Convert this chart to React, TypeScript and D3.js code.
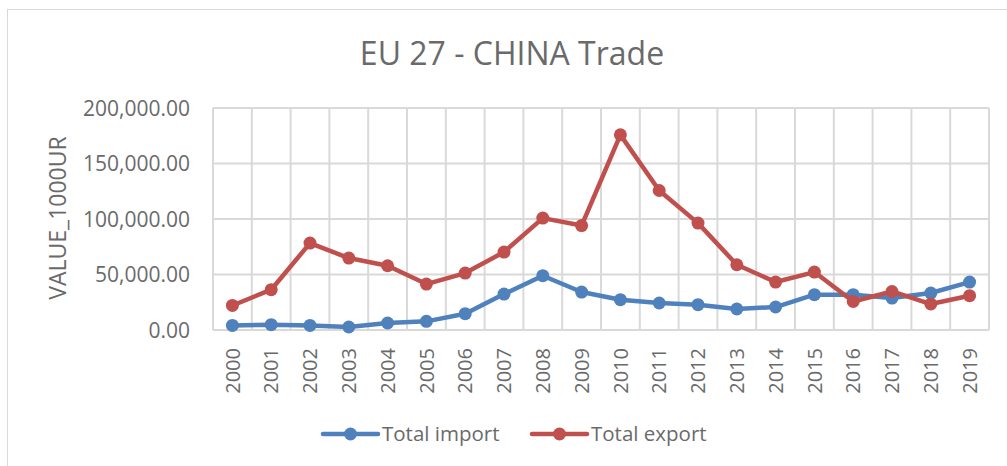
import React from "react";
import * as d3 from "d3";

const years = ["2000","2001","2002","2003","2004","2005","2006","2007","2008","2009","2010","2011","2012","2013","2014","2015","2016","2017","2018","2019"];
const totalImport = [4100,4800,4100,2700,6300,7800,14700,32400,48900,34200,27300,24300,22800,18900,20700,31800,31800,28800,33300,43200];
const totalExport = [22100,36300,78300,64800,57900,41400,51300,70200,100800,94100,175800,125700,96300,58800,43200,52200,25700,34700,23400,30900];
const yTicks = [0,50000,100000,150000,200000];
const seriesNames = ["Total import","Total export"];
const colors = ["#4f81bd","#c0504d"];

const W = 1007, H = 466;
const plot = { left: 213, right: 989, top: 108, bottom: 330 };
const FONT = "'Open Sans', sans-serif";
const TXT = "#6a6a6a";

export default function App() {
  const x = d3.scaleBand<string>().domain(years).range([plot.left, plot.right]);
  const y = d3.scaleLinear().domain([0, 200000]).range([plot.bottom, plot.top]);
  const fmt = d3.format(",.2f");
  const line = d3.line<number>().x((_, i) => (x(years[i]) as number) + x.bandwidth() / 2).y((d) => y(d));
  const data = [totalImport, totalExport];
  const bounds = d3.range(years.length + 1).map((i) => plot.left + i * x.bandwidth());
  const legendItems = [
    { x0: 323, tx: 382 },
    { x0: 532, tx: 591 },
  ];
  const ly = 434;
  return (
    <svg width={W} height={H} style={{ position: "absolute", left: 0, top: 0, background: "#fff" }} fontFamily={FONT}>
      <rect x={7.5} y={9.5} width={W} height={H} fill="#fff" stroke="#d9d9d9" strokeWidth={1} />
      <text x={512} y={65} textAnchor="middle" fontSize={32} fill={TXT}>EU 27 - CHINA Trade</text>
      {yTicks.map((t) => (
        <line key={"h" + t} x1={plot.left} x2={plot.right} y1={y(t)} y2={y(t)} stroke="#d9d9d9" strokeWidth={2} />
      ))}
      {bounds.map((bx, i) => (
        <line key={"v" + i} x1={bx} x2={bx} y1={plot.top} y2={plot.bottom} stroke="#d9d9d9" strokeWidth={2} />
      ))}
      {yTicks.map((t) => (
        <text key={"t" + t} x={190} y={y(t)} dy="0.36em" textAnchor="end" fontSize={21} fill={TXT}>{fmt(t)}</text>
      ))}
      <text transform={`translate(58,218) rotate(-90)`} textAnchor="middle" dy="0.36em" fontSize={23} fill={TXT}>VALUE_1000UR</text>
      {years.map((yr) => (
        <text key={yr} transform={`translate(${(x(yr) as number) + x.bandwidth() / 2},348) rotate(-90)`} textAnchor="end" dy="0.36em" fontSize={20} fill={TXT}>{yr}</text>
      ))}
      {data.map((s, si) => (
        <g key={si}>
          <path d={line(s) || ""} fill="none" stroke={colors[si]} strokeWidth={4.5} strokeLinejoin="round" strokeLinecap="round" />
          {s.map((v, i) => (
            <circle key={i} cx={(x(years[i]) as number) + x.bandwidth() / 2} cy={y(v)} r={6.5} fill={colors[si]} />
          ))}
        </g>
      ))}
      {legendItems.map((it, i) => (
        <g key={i}>
          <line x1={it.x0} x2={it.x0 + 55} y1={ly} y2={ly} stroke={colors[i]} strokeWidth={4.5} strokeLinecap="round" />
          <circle cx={it.x0 + 27.5} cy={ly} r={6.5} fill={colors[i]} />
          <text x={it.tx} y={ly} dy="0.36em" fontSize={20.5} fill={TXT}>{seriesNames[i]}</text>
        </g>
      ))}
    </svg>
  );
}
